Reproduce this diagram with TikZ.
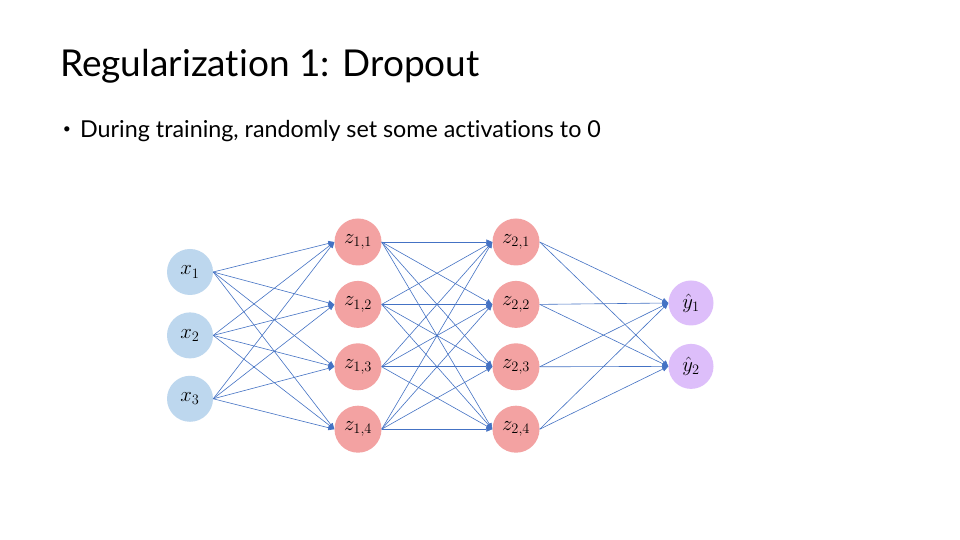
\documentclass[tikz,border=0pt]{standalone}
\usepackage{fontspec}
\setmainfont{Lato}[Ligatures=NoCommon]
\usetikzlibrary{arrows.meta, positioning}
\definecolor{inblue}{RGB}{189,215,238}
\definecolor{hidred}{RGB}{243,162,162}
\definecolor{outpurple}{RGB}{221,190,250}
\definecolor{edgeblue}{RGB}{68,114,196}
\tikzset{
    neuron/.style={circle, draw=none, inner sep=0pt, font=\fontsize{21}{24}\selectfont},
    input/.style={neuron, fill=inblue, minimum size=46pt},
    hidden/.style={neuron, fill=hidred, minimum size=47pt},
    output/.style={neuron, fill=outpurple, minimum size=45pt},
    line/.style={draw=edgeblue, line width=0.6pt, -{Triangle[length=6pt,width=5pt]}}
}
\begin{document}
\begin{tikzpicture}[x=1pt, y=1pt]
    \fill [white] (0,0) rectangle (960,540);
    \useasboundingbox (0,0) rectangle (960,540);

    \node [anchor=base west, font=\fontsize{37}{44}\selectfont, inner sep=0pt] (Title) at (60,463) {Regularization 1: Dropout};
    \node [font=\fontsize{14}{16}\selectfont, inner sep=0pt] (Bullet) at (67,410) {\textbullet};
    \node [anchor=base west, font=\fontsize{23.3}{28}\selectfont, inner sep=0pt] (Point) at (80,402) {During training, randomly set some activations to 0};

    % input layer
    \node [input] (X1) at (190,268) {$x_1$};
    \node [input, below=17pt of X1] (X2) {$x_2$};
    \node [input, below=17pt of X2] (X3) {$x_3$};

    % hidden layers
    \node [hidden] (Z11) at (358,298) {$z_{1,1}$};
    \node [hidden, below=15pt of Z11] (Z12) {$z_{1,2}$};
    \node [hidden, below=15pt of Z12] (Z13) {$z_{1,3}$};
    \node [hidden, below=15pt of Z13] (Z14) {$z_{1,4}$};
    \node [hidden] (Z21) at (516,298) {$z_{2,1}$};
    \node [hidden, below=15pt of Z21] (Z22) {$z_{2,2}$};
    \node [hidden, below=15pt of Z22] (Z23) {$z_{2,3}$};
    \node [hidden, below=15pt of Z23] (Z24) {$z_{2,4}$};

    % output layer
    \node [output] (Y1) at (691,237) {$\hat{y}_1$};
    \node [output, below=18pt of Y1] (Y2) {$\hat{y}_2$};

    \draw [line] (X1.east) -- (Z11.west); \draw [line] (X1.east) -- (Z12.west);
    \draw [line] (X1.east) -- (Z13.west); \draw [line] (X1.east) -- (Z14.west);
    \draw [line] (X2.east) -- (Z11.west); \draw [line] (X2.east) -- (Z12.west);
    \draw [line] (X2.east) -- (Z13.west); \draw [line] (X2.east) -- (Z14.west);
    \draw [line] (X3.east) -- (Z11.west); \draw [line] (X3.east) -- (Z12.west);
    \draw [line] (X3.east) -- (Z13.west); \draw [line] (X3.east) -- (Z14.west);

    \draw [line] (Z11.east) -- (Z21.west); \draw [line] (Z11.east) -- (Z22.west);
    \draw [line] (Z11.east) -- (Z23.west); \draw [line] (Z11.east) -- (Z24.west);
    \draw [line] (Z12.east) -- (Z21.west); \draw [line] (Z12.east) -- (Z22.west);
    \draw [line] (Z12.east) -- (Z23.west); \draw [line] (Z12.east) -- (Z24.west);
    \draw [line] (Z13.east) -- (Z21.west); \draw [line] (Z13.east) -- (Z22.west);
    \draw [line] (Z13.east) -- (Z23.west); \draw [line] (Z13.east) -- (Z24.west);
    \draw [line] (Z14.east) -- (Z21.west); \draw [line] (Z14.east) -- (Z22.west);
    \draw [line] (Z14.east) -- (Z23.west); \draw [line] (Z14.east) -- (Z24.west);

    \draw [line] (Z21.east) -- (Y1.west); \draw [line] (Z21.east) -- (Y2.west);
    \draw [line] (Z22.east) -- (Y1.west); \draw [line] (Z22.east) -- (Y2.west);
    \draw [line] (Z23.east) -- (Y1.west); \draw [line] (Z23.east) -- (Y2.west);
    \draw [line] (Z24.east) -- (Y1.west); \draw [line] (Z24.east) -- (Y2.west);
\end{tikzpicture}
\end{document}
